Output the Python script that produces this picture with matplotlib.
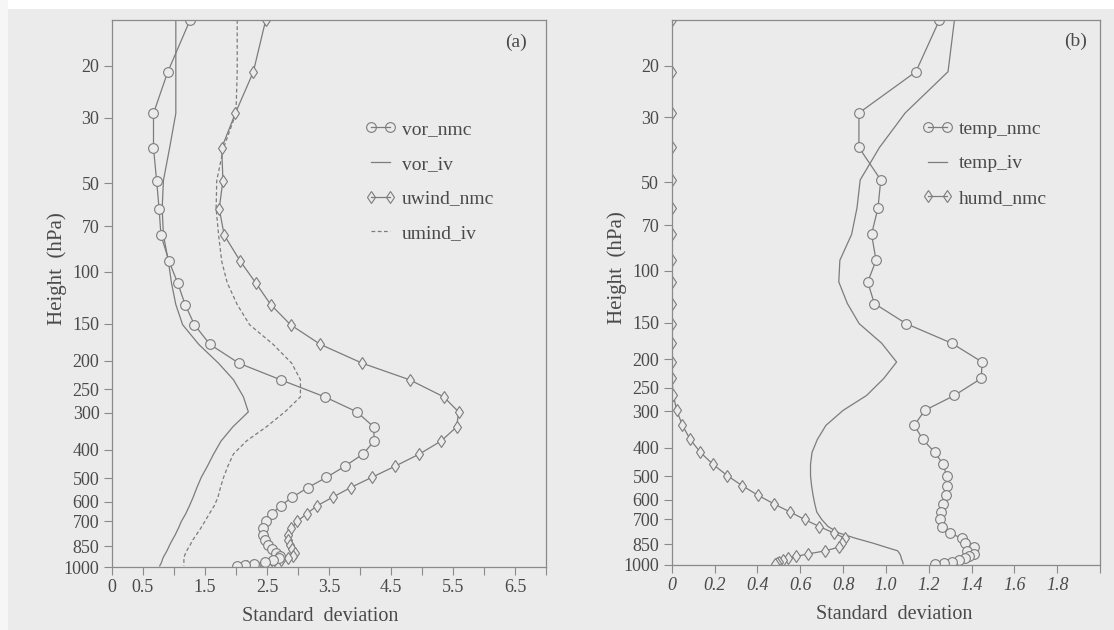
import matplotlib
matplotlib.use("Agg")
import matplotlib.pyplot as plt
from matplotlib.lines import Line2D
from matplotlib.patches import Rectangle
from matplotlib.ticker import FixedLocator, NullLocator, FixedFormatter

# ---------------- data ----------------
levels = [14, 21, 29, 38, 49, 61, 75, 92, 109, 129, 151, 176, 204, 232, 265, 298,
          335, 374, 414, 455, 497, 538, 580, 620, 660, 700, 740, 778, 812, 843,
          870, 895, 917, 935, 950, 963, 974, 983, 991]

vor_nmc = [1.26, 0.90, 0.67, 0.67, 0.72, 0.76, 0.79, 0.92, 1.06, 1.18, 1.33, 1.58,
           2.05, 2.72, 3.43, 3.95, 4.22, 4.23, 4.05, 3.76, 3.46, 3.16, 2.91, 2.72,
           2.58, 2.48, 2.44, 2.44, 2.47, 2.52, 2.58, 2.65, 2.71, 2.70, 2.60, 2.47,
           2.29, 2.15, 2.02]
vor_iv = [1.03, 1.03, 1.03, 0.93, 0.83, 0.81, 0.83, 0.91, 0.96, 1.03, 1.14, 1.40,
          1.72, 1.96, 2.12, 2.20, 1.95, 1.76, 1.64, 1.54, 1.44, 1.37, 1.31, 1.25,
          1.19, 1.12, 1.07, 1.02, 0.97, 0.93, 0.90, 0.87, 0.84, 0.82, 0.81, 0.80,
          0.79, 0.78, 0.77]
uwind_nmc = [2.48, 2.28, 1.99, 1.77, 1.79, 1.73, 1.81, 2.07, 2.32, 2.56, 2.88, 3.36,
             4.04, 4.80, 5.35, 5.59, 5.56, 5.31, 4.96, 4.57, 4.19, 3.85, 3.56, 3.31,
             3.14, 2.99, 2.89, 2.84, 2.84, 2.87, 2.91, 2.95, 2.92, 2.84, 2.73, 2.60,
             2.44, 2.28, 2.17]
umind_iv = [2.02, 2.02, 2.00, 1.80, 1.69, 1.68, 1.72, 1.77, 1.86, 2.02, 2.22, 2.60,
            2.90, 3.04, 3.04, 2.79, 2.49, 2.17, 1.96, 1.87, 1.80, 1.75, 1.71, 1.65,
            1.57, 1.50, 1.43, 1.36, 1.30, 1.26, 1.22, 1.19, 1.17, 1.16, 1.16, 1.16,
            1.16, 1.16, 1.16]

temp_nmc = [1.25, 1.14, 0.874, 0.874, 0.976, 0.963, 0.933, 0.954, 0.915, 0.946,
            1.094, 1.307, 1.449, 1.445, 1.320, 1.181, 1.133, 1.172, 1.228, 1.268,
            1.283, 1.284, 1.279, 1.268, 1.258, 1.254, 1.262, 1.297, 1.356, 1.37,
            1.41, 1.38, 1.41, 1.39, 1.37, 1.34, 1.31, 1.27, 1.23]
temp_iv = [1.32, 1.29, 1.09, 0.97, 0.88, 0.865, 0.84, 0.785, 0.78, 0.82, 0.875,
           0.98, 1.05, 0.99, 0.91, 0.80, 0.72, 0.68, 0.655, 0.648, 0.648, 0.653,
           0.66, 0.668, 0.677, 0.70, 0.73, 0.78, 0.86, 0.94, 1.00, 1.055, 1.065,
           1.07, 1.072, 1.075, 1.078, 1.08, 1.08]
humd_nmc = [0, 0, 0, 0, 0, 0, 0, 0, 0, 0, 0, 0, 0,
            0.0, 0.008, 0.023, 0.05, 0.086, 0.134, 0.193, 0.26, 0.33, 0.404, 0.478,
            0.552, 0.62, 0.689, 0.756, 0.81, 0.795, 0.779, 0.717, 0.637, 0.581,
            0.545, 0.519, 0.503, 0.491, 0.483]

y_ticks = [20, 30, 50, 70, 100, 150, 200, 250, 300, 400, 500, 600, 700, 850, 1000]
xa_ticks = [0, 0.5, 1.0, 1.5, 2.0, 2.5, 3.0, 3.5, 4.0, 4.5, 5.0, 5.5, 6.0, 6.5, 7.0]
xa_labels = ["0", "0.5", "", "1.5", "", "2.5", "", "3.5", "", "4.5", "", "5.5", "", "6.5", ""]
xb_ticks = [0, 0.2, 0.4, 0.6, 0.8, 1.0, 1.2, 1.4, 1.6, 1.8, 2.0]
xb_labels = ["0", "0.2", "0.4", "0.6", "0.8", "1.0", "1.2", "1.4", "1.6", "1.8", ""]

# ---------------- style ----------------
BG = "#ebebeb"
LC = "#7c7c7c"
TC = "#4a4a4a"
plt.rcParams["font.family"] = ["Liberation Serif", "DejaVu Serif"]

fig = plt.figure(figsize=(11.14, 6.30), dpi=100, facecolor=BG)
fig.patches.append(Rectangle((0, 0.985), 1, 0.015, transform=fig.transFigure,
                             facecolor="white", edgecolor="none", zorder=-1))
fig.patches.append(Rectangle((0, 0), 0.007, 1, transform=fig.transFigure,
                             facecolor="#f6f6f6", edgecolor="none", zorder=-1))

ax1 = fig.add_axes([0.1005, 0.100, 0.3896, 0.8683])
ax2 = fig.add_axes([0.6030, 0.1032, 0.3845, 0.8651])

lw = 0.9
circ = dict(marker="o", markersize=7, markerfacecolor=BG, markeredgecolor=LC,
            markeredgewidth=0.8)
diam = dict(marker="d", markersize=6, markerfacecolor=BG, markeredgecolor=LC,
            markeredgewidth=0.8)

ax1.plot(vor_iv, levels, color=LC, lw=lw)
ax1.plot(umind_iv, levels, color=LC, lw=lw, ls=(0, (3, 2)))
ax1.plot(uwind_nmc, levels, color=LC, lw=lw, **diam)
ax1.plot(vor_nmc, levels, color=LC, lw=lw, **circ)

ax2.plot(temp_iv, levels, color=LC, lw=lw)
ax2.plot(humd_nmc, levels, color=LC, lw=lw, **diam)
ax2.plot(temp_nmc, levels, color=LC, lw=lw, **circ)

for ax, xt, xl, xmax, ital, xlx in [(ax1, xa_ticks, xa_labels, 7.0, "normal", 0.48),
                                    (ax2, xb_ticks, xb_labels, 2.0, "italic", 0.52)]:
    ax.set_facecolor(BG)
    ax.set_yscale("log")
    ax.set_ylim(1000, 14)
    ax.set_xlim(0, xmax)
    ax.yaxis.set_major_locator(FixedLocator(y_ticks))
    ax.yaxis.set_major_formatter(FixedFormatter([str(v) for v in y_ticks]))
    ax.yaxis.set_minor_locator(NullLocator())
    ax.xaxis.set_major_locator(FixedLocator(xt))
    ax.xaxis.set_major_formatter(FixedFormatter(xl))
    ax.tick_params(axis="both", direction="out", length=6, width=0.8,
                   color="#8a8a8a", labelcolor=TC, labelsize=13, pad=3)
    for lab in ax.get_xticklabels():
        lab.set_fontstyle(ital)
    for sp in ax.spines.values():
        sp.set_color("#8a8a8a")
        sp.set_linewidth(0.9)
    ax.set_xlabel("Standard  deviation", fontsize=14.5, color=TC)
    ax.set_ylabel("Height  (hPa)", fontsize=15, color=TC)
    ax.xaxis.set_label_coords(xlx, -0.073)
    ax.yaxis.set_label_coords(-0.104, 0.545)

ax1.text(0.93, 0.96, "(a)", transform=ax1.transAxes, ha="center", va="center",
         fontsize=14, color=TC)
ax2.text(0.942, 0.96, "(b)", transform=ax2.transAxes, ha="center", va="center",
         fontsize=14, color=TC)

def h(kind):
    base = dict(color=LC, lw=lw)
    if kind == "c":
        return Line2D([], [], marker="o", markersize=7, markerfacecolor="none",
                      markeredgecolor=LC, markeredgewidth=0.8, **base)
    if kind == "d":
        return Line2D([], [], marker="d", markersize=6, markerfacecolor="none",
                      markeredgecolor=LC, markeredgewidth=0.8, **base)
    if kind == "s":
        return Line2D([], [], **base)
    return Line2D([], [], ls=(0, (3, 2)), **base)

leg_kw = dict(loc="upper left", frameon=False, numpoints=2, handlelength=1.6,
              handletextpad=0.3, labelspacing=0.88, borderpad=0, borderaxespad=0,
              prop={"size": 14})
l1 = ax1.legend([h("c"), h("s"), h("d"), h("x")],
                ["vor_nmc", "vor_iv", "uwind_nmc", "umind_iv"],
                bbox_to_anchor=(0.583, 0.8165), **leg_kw)
l2 = ax2.legend([h("c"), h("s"), h("d")],
                ["temp_nmc", "temp_iv", "humd_nmc"],
                bbox_to_anchor=(0.584, 0.8165), **leg_kw)
for l in (l1, l2):
    for t in l.get_texts():
        t.set_color(TC)

fig.savefig("out.png", dpi=100, facecolor=BG)
